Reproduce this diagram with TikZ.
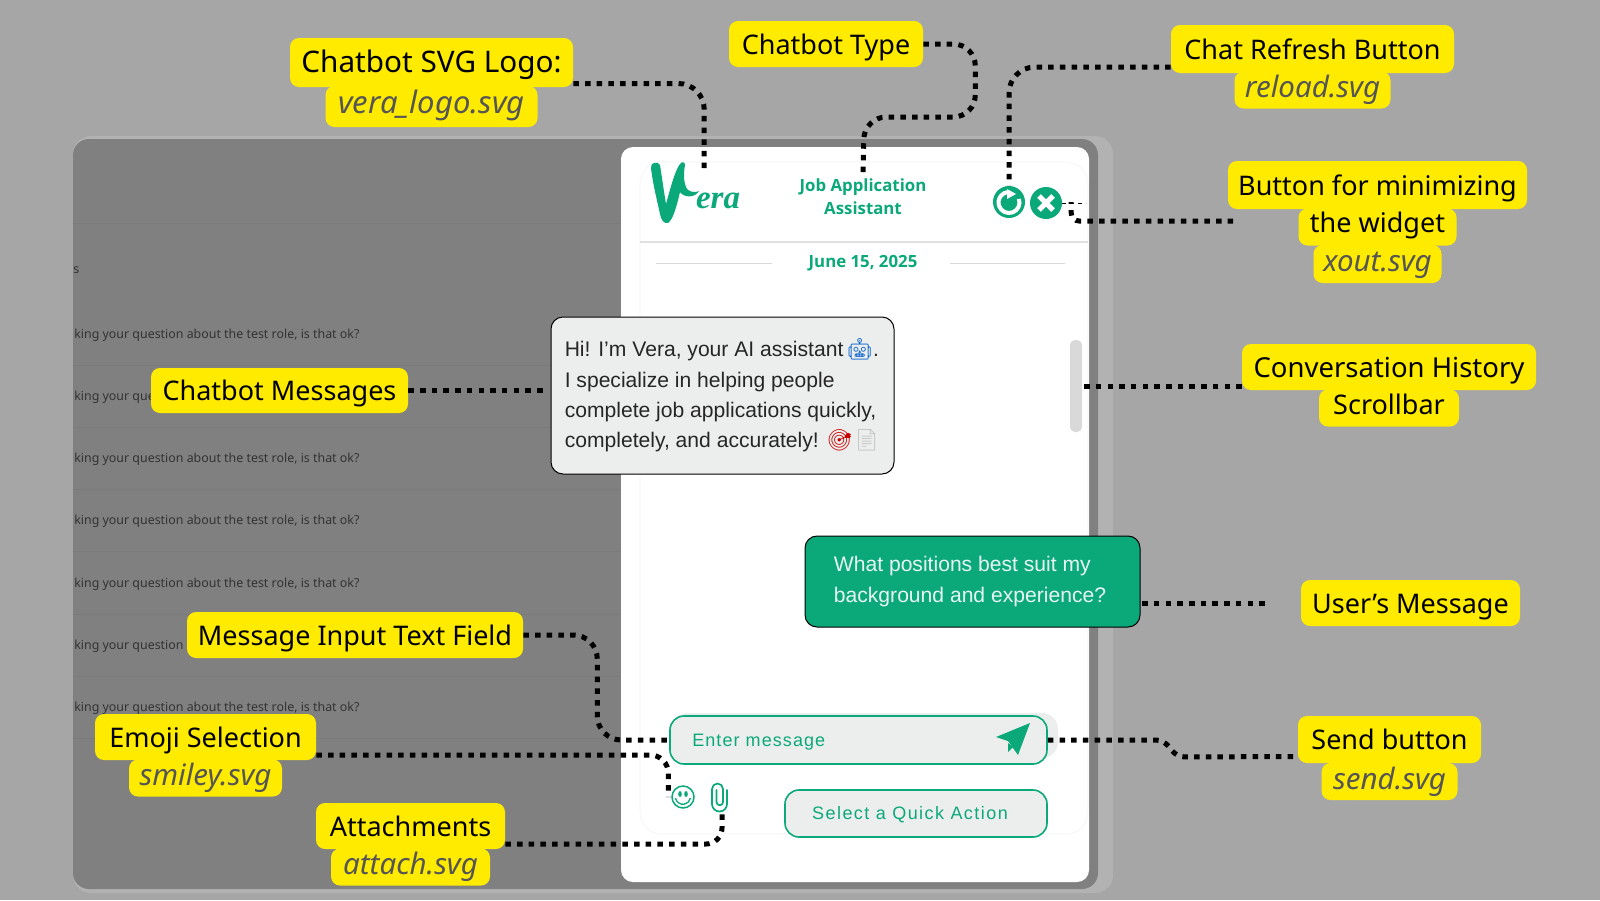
\documentclass[tikz,border=0pt]{standalone}
\usepackage{fontspec}
\setmainfont{Noto Sans}
\newfontfamily\uifont{Liberation Sans}
\newfontfamily\headfont{Open Sans}
\newfontfamily\logofont{Liberation Serif}
\newfontfamily\emojifont{Noto Emoji}
\usepackage{tikz}
\definecolor{pagegrey}{HTML}{A6A6A6}
\definecolor{rimgrey}{HTML}{B2B2B2}
\definecolor{darkgrey}{HTML}{808080}
\definecolor{rowgrey}{HTML}{7B7B7B}
\definecolor{tagyellow}{HTML}{FFEB00}
\definecolor{filegrey}{HTML}{555555}
\definecolor{veragreen}{HTML}{0BA87A}
\definecolor{bubblegrey}{HTML}{ECEEED}
\definecolor{cardline}{HTML}{F3F3F6}

\begin{document}
\begin{tikzpicture}[-,x=1pt,y=1pt,semithick,node distance=40pt]
  \tikzstyle{tag}=[fill=tagyellow,rounded corners=9pt,text=black,inner sep=0pt,text height=22pt,text depth=1.4pt,font=\fontsize{27}{32}\selectfont]
  \tikzstyle{file}=[tag,text height=22pt,text depth=7pt,font=\itshape\fontsize{29.5}{32}\selectfont,text=filegrey]
  \tikzstyle{lead}=[draw=black,line width=5pt,dash pattern=on 5.5pt off 6.2pt,rounded corners=26pt]
  \tikzstyle{row}=[anchor=west,text=black!80,inner sep=0pt,font=\fontsize{12.4}{14}\selectfont]
  \tikzstyle{bubble}=[rounded corners=12pt,draw=black,line width=1pt,align=left,inner sep=0pt,font=\uifont\fontsize{21.1}{30.2}\selectfont]
  \tikzstyle{field}=[rounded corners=14pt,draw=veragreen,line width=1.6pt,fill=bubblegrey,text=veragreen,inner sep=0pt,font=\uifont\fontsize{18}{20}\selectfont]
  \tikzstyle{head}=[text=veragreen,align=center,inner sep=3pt,font=\headfont\bfseries\fontsize{16.8}{23}\selectfont]

  \useasboundingbox (0,0) rectangle (1600,-900);
  \fill[pagegrey] (0,0) rectangle (1600,-900);
  \fill[rimgrey,rounded corners=18pt] (73,-136) rectangle (1113,-893);
  \fill[darkgrey,rounded corners=16pt] (73,-139) rectangle (1098,-889);

  % rows behind the widget
  \draw[rowgrey] (73,-223) -- (620,-223);
  \foreach \y in {365,427,489,551,614,676,738}
    \draw[rowgrey] (73,-\y) -- (620,-\y);
  \foreach \y in {335,459,521,584,708}
    \node[row] (ROW\y) at (74,-\y) {king your question about the test role, is that ok?};
  \node[row] (ROW397) at (74,-397) {king your que};
  \node[row] (ROW646) at (74,-646) {king your question};
  \node[row] (STRAY) at (73,-270) {s};

  % widget
  \fill[white,rounded corners=12pt] (621,-147) rectangle (1089,-882);
  \draw[cardline,rounded corners=22pt] (640,-162) rectangle (1088,-834);
  \draw[black!12,line width=1.2pt] (640,-242) -- (1088,-242);
  \draw[black!15] (656,-263) -- (772,-263);
  \draw[black!15] (950,-263) -- (1065,-263);
  \node[head] (TITLE) at (863,-197) {Job Application\\Assistant};
  \node[head] (DATE) at (863,-263) {June 15, 2025};

  % logo
  \fill[veragreen] (651,-168) .. controls (650,-162) and (658,-161) .. (660,-165)
    .. controls (662,-178) and (664,-192) .. (666,-204)
    .. controls (670,-190) and (675,-170) .. (680,-164)
    .. controls (682,-161) and (685,-162) .. (685,-165)
    .. controls (683,-175) and (684,-186) .. (688,-190)
    .. controls (692,-193) and (697,-192) .. (699,-191)
    .. controls (695,-198) and (684,-198) .. (680,-192)
    .. controls (677,-205) and (673,-220) .. (668,-223)
    .. controls (664,-224) and (661,-220) .. (660,-214)
    .. controls (657,-200) and (653,-185) .. (651,-168);
  \node[text=veragreen,inner sep=0pt,font=\logofont\itshape\bfseries\fontsize{33}{33}\selectfont] (ERA) at (718,-201) {era};
  \coordinate (LOGOEND) at (704,-168);

  % header buttons
  \node[circle,fill=veragreen,minimum size=32pt,inner sep=0pt] (RELOAD) at (1009,-202) {};
  \draw[white,line width=4pt] (1018.9,-198.9) arc (20:-260:10.5);
  \fill[white] (1007,-189) -- (1016,-194) -- (1007,-199) -- cycle;
  \node[circle,fill=veragreen,minimum size=32pt,inner sep=0pt] (XOUT) at (1046,-203) {};
  \draw[white,line width=5pt] (1039,-196) -- (1053,-210);
  \draw[white,line width=5pt] (1053,-196) -- (1039,-210);

  % conversation
  \node[bubble,fill=bubblegrey,text=black!85,minimum width=343pt,minimum height=157pt] (BOTMSG) at (722.5,-395.5)
    {Hi! I’m Vera, your AI assistant\hspace{3pt}{\emojifont\color{blue!55!cyan!80!black}🤖}.\\
     I specialize in helping people\\
     complete job applications quickly,\hspace*{-7pt}\\
     completely, and accurately! {\emojifont\color{red!80!black}🎯}{\emojifont\color{black!25}📄}};
  \node[bubble,fill=veragreen,text=white!90!veragreen,minimum width=335pt,minimum height=91pt] (USERMSG) at (972.5,-581.5)
    {What positions best suit my\\background and experience?\hspace*{5pt}};
  \node[fill=black!15,rounded corners=5pt,minimum width=12pt,minimum height=92pt,inner sep=0pt] (SCROLL) at (1076,-386) {};

  % input area
  \fill[bubblegrey,rounded corners=16pt] (671,-713) rectangle (1058,-758);
  \node[field,minimum width=377pt,minimum height=48pt] (INPUT) at (858.5,-740) {};
  \node[text=veragreen,anchor=west,inner sep=0pt,font=\uifont\fontsize{18}{20}\selectfont] (HINT) at (692,-742)
    {\addfontfeature{LetterSpace=6}Enter message};
  \fill[veragreen] (1030,-723) -- (996,-737) -- (1008,-741) -- (1018,-755) -- cycle;
  \fill[veragreen] (1008,-743) -- (1008,-752) -- (1013,-747) -- cycle;
  \node[field,minimum width=262pt,minimum height=47pt] (QUICK) at (916,-813.5) {};
  \node[text=veragreen,inner sep=0pt,font=\uifont\fontsize{18}{20}\selectfont] (QUICKTEXT) at (910,-814.5)
    {\addfontfeature{LetterSpace=8}Select a Quick Action};
  \node[circle,draw=veragreen,line width=1.5pt,minimum size=22pt,inner sep=0pt] (SMILE) at (683,-797) {};
  \fill[veragreen] (680,-794) ellipse (1.8 and 3);
  \fill[veragreen] (686,-794) ellipse (1.8 and 3);
  \draw[veragreen,line width=1.3pt] (675.5,-798) arc (190:350:7.6);
  \draw[veragreen,line width=1.7pt,line cap=round] (727,-790) -- (727,-804) arc (0:-180:7.5) -- (712,-789) arc (180:0:5.5) -- (723,-802) arc (0:-180:3.25) -- (716.5,-790);
  \coordinate (CLIP) at (722,-814);

  % labels
  \node[tag,minimum width=283pt,minimum height=49pt,font=\fontsize{29.7}{32}\selectfont] (LOGO) at (431.5,-62.5) {Chatbot SVG Logo:};
  \node[file,minimum width=212pt,minimum height=41pt,text depth=9pt,font=\itshape\fontsize{31}{32}\selectfont] (LOGOFILE) [below of=LOGO,node distance=44pt] {vera\_logo.svg};
  \node[tag,minimum width=194pt,minimum height=46pt] (TYPE) at (826,-44) {Chatbot Type};
  \node[tag,minimum width=283pt,minimum height=48pt] (REFRESH) at (1312.5,-49) {Chat Refresh Button};
  \node[file,minimum width=156pt,minimum height=37pt] (REFRESHFILE) [below of=REFRESH,node distance=41pt] {reload.svg};
  \node[tag,minimum width=299pt,minimum height=48pt] (MINIMIZE) at (1377.5,-185) {Button for minimizing};
  \node[tag,minimum width=158pt,minimum height=37pt,text height=21pt,text depth=10.4pt] (WIDGET) [below of=MINIMIZE,node distance=42pt] {the widget};
  \node[file,minimum width=128pt,minimum height=38pt] (XOUTFILE) [below of=WIDGET,node distance=37pt] {xout.svg};
  \node[tag,minimum width=294pt,minimum height=46pt,font=\fontsize{27.5}{32}\selectfont] (HISTORY) at (1389,-367) {Conversation History};
  \node[tag,minimum width=140pt,minimum height=37pt,text height=21pt,text depth=8pt] (SCROLLTAG) [below of=HISTORY,node distance=41pt] {Scrollbar};
  \node[tag,minimum width=257pt,minimum height=45pt] (MESSAGES) at (279.5,-390.5) {Chatbot Messages};
  \node[tag,minimum width=219pt,minimum height=46pt] (USER) at (1410.5,-603) {User’s Message};
  \node[tag,minimum width=336pt,minimum height=46pt] (INPUTTAG) at (355,-635) {Message Input Text Field};
  \node[tag,minimum width=221pt,minimum height=46pt] (EMOJI) at (205.5,-737) {Emoji Selection};
  \node[file,minimum width=153pt,minimum height=37pt] (EMOJIFILE) [below of=EMOJI,node distance=41pt] {smiley.svg};
  \node[tag,minimum width=189pt,minimum height=46pt] (ATTACH) at (410.5,-826) {Attachments};
  \node[file,minimum width=159pt,minimum height=37pt] (ATTACHFILE) [below of=ATTACH,node distance=41pt] {attach.svg};
  \node[tag,minimum width=183pt,minimum height=47pt] (SEND) at (1389.5,-739.5) {Send button};
  \node[file,minimum width=136pt,minimum height=37pt] (SENDFILE) [below of=SEND,node distance=42pt] {send.svg};

  % leads
  \draw[lead] ([yshift=-21pt]LOGO.east) -- ++(131,0) -- (LOGOEND);
  \draw[lead,rounded corners=22pt] (TYPE.east) -- ++(52,0) -- ++(0,-73) -- ++(-111,0) -- (TITLE.north);
  \draw[lead] ([yshift=-18pt]REFRESH.west) -| (RELOAD.north);
  \draw[lead,rounded corners=8pt,shorten <=65pt] ([yshift=6pt]WIDGET.west) -- ++(-227,0) -- ++(0,19);
  \draw[black,thin,dash pattern=on 4pt off 4pt] (XOUT.east) -- ++(24,0);
  \draw[lead] ([yshift=-19pt]HISTORY.west) -- (SCROLL.east);
  \draw[lead,shorten >=3pt] (MESSAGES.east) -- (BOTMSG.west |- MESSAGES.east);
  \draw[lead,shorten <=36pt] (USER.west) -- (USERMSG.east |- USER.west);
  \draw[lead,rounded corners=24pt] (INPUTTAG.east) -- ++(74,0) -- ++(0,-105) -- (INPUT.west);
  \draw[lead,rounded corners=18pt] ([yshift=-18pt]EMOJI.east) -| ([xshift=-3pt]SMILE.west);
  \draw[lead,rounded corners=16pt] ([yshift=-18pt]ATTACH.east) -| (CLIP);
  \draw[lead,rounded corners=8pt] (INPUT.east) -- ++(116,0) -- ++(13,-17) -- ([yshift=-17pt]SEND.west);
\end{tikzpicture}
\end{document}
